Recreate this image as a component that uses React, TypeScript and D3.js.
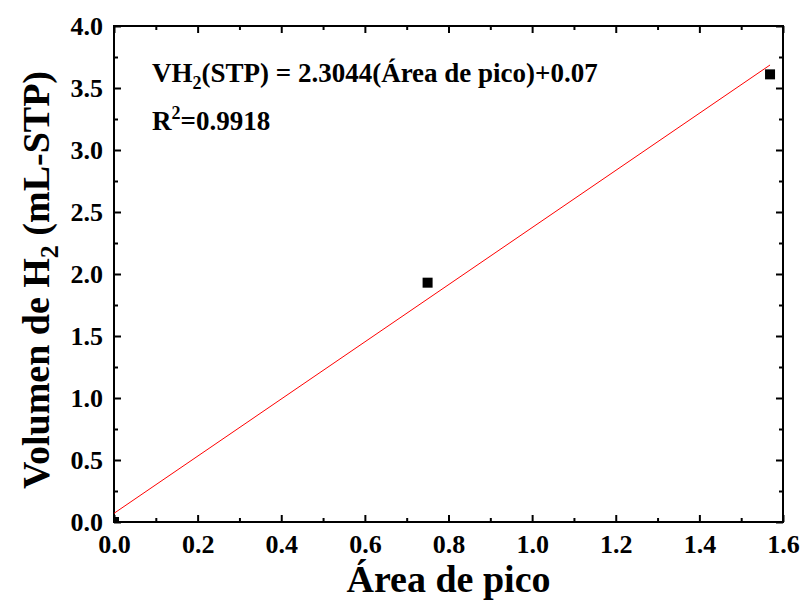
import { useEffect, useRef } from "react";
import * as d3 from "d3";

// measured points (Área de pico, Volumen H2)
const areas = [0.0, 0.75, 1.569];
const volumes = [0.0, 1.93, 3.61];
const slope = 2.3044;
const intercept = 0.07;
const xTicks = [0, 0.2, 0.4, 0.6, 0.8, 1.0, 1.2, 1.4, 1.6];
const yTicks = [0, 0.5, 1.0, 1.5, 2.0, 2.5, 3.0, 3.5, 4.0];

const W = 803;
const H = 605;
const margin = { top: 26, right: 20, bottom: 83, left: 114 };
const font = "'Liberation Serif', 'Times New Roman', serif";

export default function App() {
    const ref = useRef<SVGSVGElement>(null);

    useEffect(() => {
        const svg = d3.select(ref.current);
        svg.selectAll("*").remove();

        const width = W - margin.left - margin.right;
        const height = H - margin.top - margin.bottom;

        const x = d3.scaleLinear().domain([0, 1.6]).range([0, width]);
        const y = d3.scaleLinear().domain([0, 4.0]).range([height, 0]);

        svg.append("defs")
            .append("clipPath")
            .attr("id", "plot-clip")
            .append("rect")
            .attr("width", width)
            .attr("height", height);

        const g = svg.append("g").attr("transform", `translate(${margin.left},${margin.top})`);

        // minor tick values (halfway between majors)
        const xMinor = d3.range(0.1, 1.6, 0.2);
        const yMinor = d3.range(0.25, 4.0, 0.5);

        // ---- axes, ticks inward ----
        const styleAxis = (sel: any) => {
            sel.select(".domain").remove();
            sel.selectAll("line").attr("stroke", "#000").attr("stroke-width", 2);
            sel.selectAll("text").attr("font-family", font).attr("font-weight", "bold").attr("font-size", 26).attr("fill", "#000");
        };

        g.append("g")
            .attr("transform", `translate(0,${height})`)
            .call(d3.axisBottom(x).tickValues(xTicks).tickSize(-7).tickPadding(13).tickFormat(d3.format(".1f")))
            .call(styleAxis);
        g.append("g")
            .attr("transform", `translate(0,${height})`)
            .call(d3.axisBottom(x).tickValues(xMinor).tickSize(-4).tickFormat(() => ""))
            .call(styleAxis);
        g.append("g")
            .call(d3.axisTop(x).tickValues(xTicks).tickSize(-7).tickFormat(() => ""))
            .call(styleAxis);
        g.append("g")
            .call(d3.axisTop(x).tickValues(xMinor).tickSize(-4).tickFormat(() => ""))
            .call(styleAxis);

        g.append("g")
            .call(d3.axisLeft(y).tickValues(yTicks).tickSize(-7).tickPadding(11).tickFormat(d3.format(".1f")))
            .call(styleAxis);
        g.append("g")
            .call(d3.axisLeft(y).tickValues(yMinor).tickSize(-4).tickFormat(() => ""))
            .call(styleAxis);
        g.append("g")
            .attr("transform", `translate(${width},0)`)
            .call(d3.axisRight(y).tickValues(yTicks).tickSize(-7).tickFormat(() => ""))
            .call(styleAxis);
        g.append("g")
            .attr("transform", `translate(${width},0)`)
            .call(d3.axisRight(y).tickValues(yMinor).tickSize(-4).tickFormat(() => ""))
            .call(styleAxis);

        g.append("rect")
            .attr("width", width)
            .attr("height", height)
            .attr("fill", "none")
            .attr("stroke", "#000")
            .attr("stroke-width", 2);

        // ---- fit line ----
        const xMin = d3.min(areas) as number;
        const xMax = d3.max(areas) as number;
        g.append("line")
            .attr("x1", x(xMin))
            .attr("y1", y(slope * xMin + intercept))
            .attr("x2", x(xMax))
            .attr("y2", y(slope * xMax + intercept))
            .attr("stroke", "#ff0000")
            .attr("stroke-width", 1);

        // ---- points ----
        g.append("g")
            .attr("clip-path", "url(#plot-clip)")
            .selectAll("rect")
            .data(areas)
            .enter()
            .append("rect")
            .attr("x", (d) => x(d) - 5)
            .attr("y", (d, i) => y(volumes[i]) - 5)
            .attr("width", 10)
            .attr("height", 10)
            .attr("fill", "#000");

        // ---- annotation ----
        const eq = g.append("text")
            .attr("x", 38)
            .attr("y", 56)
            .attr("font-family", font)
            .attr("font-weight", "bold")
            .attr("font-size", 27)
            .attr("fill", "#000");
        eq.append("tspan").text("VH");
        eq.append("tspan").attr("font-size", 18).attr("dy", 7).text("2");
        eq.append("tspan").attr("dy", -7).text("(STP) = 2.3044(Área de pico)+0.07");

        const r2 = g.append("text")
            .attr("x", 38)
            .attr("y", 104)
            .attr("font-family", font)
            .attr("font-weight", "bold")
            .attr("font-size", 27)
            .attr("fill", "#000");
        r2.append("tspan").text("R");
        r2.append("tspan").attr("font-size", 18).attr("dy", -11).text("2");
        r2.append("tspan").attr("dy", 11).text("=0.9918");

        // ---- axis titles ----
        svg.append("text")
            .attr("x", margin.left + width / 2)
            .attr("y", 592)
            .attr("text-anchor", "middle")
            .attr("font-family", font)
            .attr("font-weight", "bold")
            .attr("font-size", 38)
            .text("Área de pico");

        const yt = svg.append("text")
            .attr("transform", `translate(49,${margin.top + height / 2 + 6}) rotate(-90)`)
            .attr("text-anchor", "middle")
            .attr("font-family", font)
            .attr("font-weight", "bold")
            .attr("font-size", 38);
        yt.append("tspan").text("Volumen de H");
        yt.append("tspan").attr("font-size", 26).attr("dy", 9).text("2");
        yt.append("tspan").attr("dy", -9).text(" (mL-STP)");
    }, []);

    return <svg ref={ref} width={W} height={H} style={{ display: "block", position: "absolute", left: 0, top: 0, background: "#fff" }} />;
}
